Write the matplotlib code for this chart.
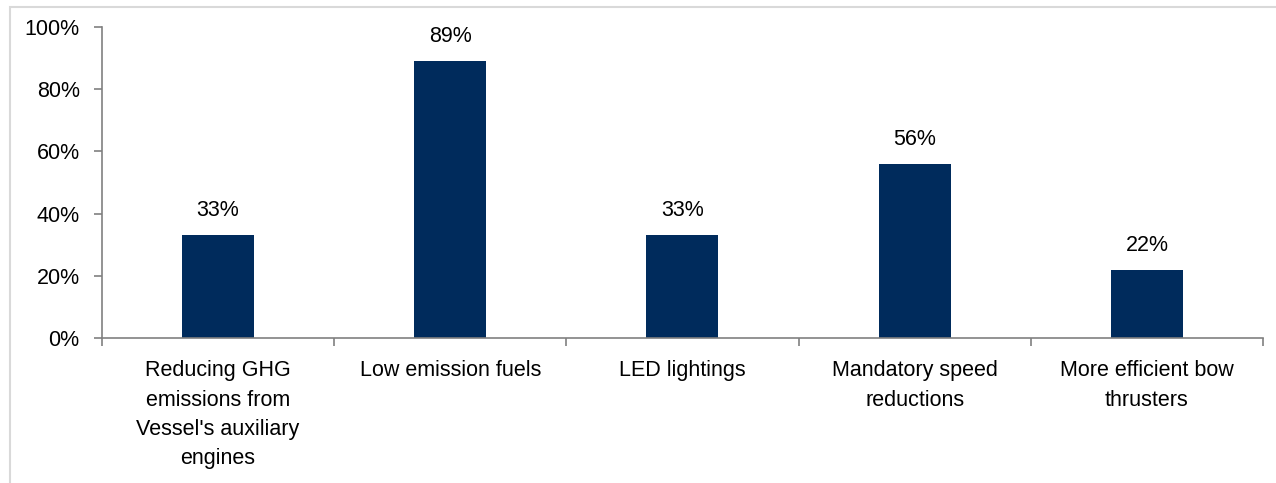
import matplotlib
matplotlib.use("Agg")
from matplotlib import pyplot as plt
from matplotlib.patches import Rectangle
from matplotlib.ticker import PercentFormatter, FixedLocator

categories = [
    "Reducing GHG\nemissions from\nVessel's auxiliary\nengines",
    "Low emission fuels",
    "LED lightings",
    "Mandatory speed\nreductions",
    "More efficient bow\nthrusters",
]
shares = [33, 89, 33, 56, 22]
y_ticks = [0, 20, 40, 60, 80, 100]

plt.rcParams['font.family'] = ['Liberation Sans', 'DejaVu Sans']
plt.rcParams['font.size'] = 15.5

fig = plt.figure(figsize=(12.76, 4.83), dpi=100)
ax = fig.add_axes([0.0799, 0.3002, 0.9099, 0.6438])

# light frame round the chart
fig.patches.append(Rectangle((10 / 1276, -0.1), 1.2, 1 - 7 / 483 + 0.1,
                             transform=fig.transFigure, fill=False,
                             edgecolor="#d9d9d9", linewidth=1.5))

x = range(len(categories))
bars = ax.bar(x, shares, width=0.31, color="#002b5c")
for rect, v in zip(bars, shares):
    ax.annotate(f"{v}%", (rect.get_x() + rect.get_width() / 2, v),
                xytext=(0, 10), textcoords="offset points",
                ha="center", va="bottom")

ax.set_xlim(-0.5, len(categories) - 0.5)
ax.set_ylim(0, 100)
ax.set_yticks(y_ticks)
ax.yaxis.set_major_formatter(PercentFormatter(decimals=0))

ax.set_xticks(list(x))
ax.set_xticklabels(categories, linespacing=1.52)
ax.xaxis.set_minor_locator(FixedLocator([i - 0.5 for i in range(len(categories) + 1)]))
ax.tick_params(axis="x", which="major", length=0, pad=16)
ax.tick_params(axis="x", which="minor", length=6, width=1.2, color="#808080")
ax.tick_params(axis="y", length=6, width=1.2, color="#808080", pad=10)

for side in ["top", "right"]:
    ax.spines[side].set_visible(False)
for side in ["left", "bottom"]:
    ax.spines[side].set_color("#808080")
    ax.spines[side].set_linewidth(1.2)

fig.savefig("out.png", dpi=100)
